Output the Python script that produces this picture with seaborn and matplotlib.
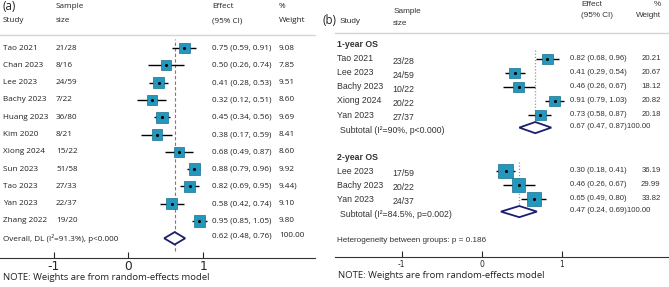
import numpy as np
import pandas as pd
import matplotlib
matplotlib.use("Agg")
import matplotlib.pyplot as plt
from matplotlib.patches import Polygon
from matplotlib.transforms import blended_transform_factory
import seaborn as sns

sns.set_style("white")

# ---- Panel (a): pooled response
a_study = ["Tao 2021", "Chan 2023", "Lee 2023", "Bachy 2023", "Huang 2023", "Kim 2020",
           "Xiong 2024", "Sun 2023", "Tao 2023", "Yan 2023", "Zhang 2022"]
a_n = ["21/28", "8/16", "24/59", "7/22", "36/80", "8/21", "15/22", "51/58", "27/33", "22/37", "19/20"]
a_es = [0.75, 0.50, 0.41, 0.32, 0.45, 0.38, 0.68, 0.88, 0.82, 0.58, 0.95]
a_lo = [0.59, 0.26, 0.28, 0.12, 0.34, 0.17, 0.49, 0.79, 0.69, 0.42, 0.85]
a_hi = [0.91, 0.74, 0.53, 0.51, 0.56, 0.59, 0.87, 0.96, 0.95, 0.74, 1.05]
a_w = ["9.08", "7.85", "9.51", "8.60", "9.69", "8.41", "8.60", "9.92", "9.44)", "9.10", "9.80"]
a_overall = (0.62, 0.48, 0.76)
a_overall_label = "Overall, DL (I²=91.3%), p<0.000"

# ---- Panel (b): OS by time point
b_groups = ["1-year OS", "2-year OS"]
b_study = [["Tao 2021", "Lee 2023", "Bachy 2023", "Xiong 2024", "Yan 2023"],
           ["Lee 2023", "Bachy 2023", "Yan 2023"]]
b_n = [["23/28", "24/59", "10/22", "20/22", "27/37"], ["17/59", "20/22", "24/37"]]
b_es = [[0.82, 0.41, 0.46, 0.91, 0.73], [0.30, 0.46, 0.65]]
b_lo = [[0.68, 0.29, 0.26, 0.79, 0.58], [0.18, 0.26, 0.49]]
b_hi = [[0.96, 0.54, 0.67, 1.03, 0.87], [0.41, 0.67, 0.80]]
b_w = [["20.21", "20.67", "18.12", "20.82", "20.18"], ["36.19", "29.99", "33.82"]]
b_sub = [(0.67, 0.47, 0.87), (0.47, 0.24, 0.69)]
b_sub_label = ["Subtotal (I²=90%, p<0.000)", "Subtotal (I²=84.5%, p=0.002)"]
het_label = "Heterogeneity between groups: p = 0.186"

ticks = [-1, 0, 1]
note = "NOTE: Weights are from random-effects model"

BOX = "#2497bd"
BOXEDGE = "#17708f"
NAVY = "#1a1f6e"

W, H = 669, 287
fig = plt.figure(figsize=(W / 100, H / 100), dpi=100)


def px_axes(l, r, top, bottom):
    return fig.add_axes([l / W, (H - bottom) / H, (r - l) / W, (bottom - top) / H])


def style_axis(ax, ticksize):
    for s in ["left", "right"]:
        ax.spines[s].set_visible(False)
    ax.spines["top"].set_color("#d4d4d4")
    ax.spines["top"].set_linewidth(1.0)
    ax.spines["bottom"].set_color("#333333")
    ax.spines["bottom"].set_linewidth(0.8)
    ax.set_yticks([])
    ax.set_xticks(ticks)
    ax.set_xticklabels([f"{t:d}" for t in ticks])
    ax.tick_params(axis="x", direction="in", length=4, width=0.8, pad=2,
                   labelsize=ticksize, bottom=True, top=False)
    ax.set_xlabel("")
    ax.set_ylabel("")


def draw_study_marks(ax, df, k):
    ax.hlines(df["row"], df["lo"], df["hi"], color="black", lw=1.0, zorder=2)
    sns.scatterplot(data=df, x="es", y="row", size="wt", sizes=(0, k * 100),
                    size_norm=(0, 100), marker="s", color=BOX, edgecolor=BOXEDGE,
                    linewidth=0.5, legend=False, ax=ax, zorder=3)
    sns.scatterplot(data=df, x="es", y="row", marker="o", color="black", s=5,
                    linewidth=0, legend=False, ax=ax, zorder=4)


def diamond(ax, est, lo, hi, row, half):
    ax.add_patch(Polygon([[lo, row], [est, row - half], [hi, row], [est, row + half]],
                         closed=True, facecolor="white", edgecolor=NAVY, lw=1.3, zorder=3))


def fmt_ci(e, l, h):
    return f"{e:.2f} ({l:.2f}, {h:.2f})"


# ================= panel (a)
axa = px_axes(0, 315, 35, 257.5)
a_rows = list(range(len(a_study)))
dfa = pd.DataFrame({"row": a_rows, "es": a_es, "lo": a_lo, "hi": a_hi,
                    "wt": [float(w.strip(")")) for w in a_w]})
axa.set_xlim(-128.3 / 74.8, (315 - 128.3) / 74.8)
axa.set_ylim((257.5 - 48) / 17.3, (35 - 48) / 17.3)
axa.axvline(a_overall[0], ymin=0.03, ymax=0.98, color="#e0504f", ls=(0, (3, 2)), lw=0.8, zorder=1)
draw_study_marks(axa, dfa, 6.6)
ov_row = len(a_study)
diamond(axa, a_overall[0], a_overall[1], a_overall[2], ov_row, 0.36)
style_axis(axa, 8.8)

fa = "Open Sans"
ta = blended_transform_factory(axa.transAxes, axa.transData)
txt_a = dict(transform=ta, fontsize=5.9, family=fa, va="center", color="#222222", clip_on=False)
for r, s, n, e, l, h, w in zip(a_rows, a_study, a_n, a_es, a_lo, a_hi, a_w):
    axa.text(0.009, r, s, **txt_a)
    axa.text(0.178, r, n, **txt_a)
    axa.text(0.673, r, fmt_ci(e, l, h), **txt_a)
    axa.text(0.886, r, w, **txt_a)
axa.text(0.009, ov_row, a_overall_label, **txt_a)
axa.text(0.673, ov_row - 0.15, fmt_ci(*a_overall), **txt_a)
axa.text(0.886, ov_row - 0.15, "100.00", **txt_a)
hdr1, hdr2 = (6 - 48) / 17.3, (21 - 48) / 17.3
axa.text(0.009, hdr1, "(a)", transform=ta, fontsize=8.3, family=fa, va="center", color="#222222")
axa.text(0.178, hdr1, "Sample", **txt_a)
axa.text(0.009, hdr2, "Study", **txt_a)
axa.text(0.178, hdr2, "size", **txt_a)
axa.text(0.673, hdr1, "Effect", **txt_a)
axa.text(0.673, hdr2, "(95% CI)", **txt_a)
axa.text(0.886, hdr1, "%", **txt_a)
axa.text(0.886, hdr2, "Weight", **txt_a)

# ================= panel (b)
axb = px_axes(335, 669, 33, 257)
axb.set_xlim((335 - 481.7) / 80, (669 - 481.7) / 80)
axb.set_ylim((257 - 45) / 14, (33 - 45) / 14)

fb = "Liberation Sans"
tb = blended_transform_factory(axb.transAxes, axb.transData)
txt_b = dict(transform=tb, fontsize=6.3, family=fb, va="center", color="#333333", clip_on=False)
num_b = dict(txt_b, fontsize=5.6)
hdr_b = dict(txt_b, fontsize=5.9)

row = 0
for g in range(len(b_groups)):
    axb.text(0.006, row, b_groups[g], fontweight="bold", **txt_b)
    rows = list(range(row + 1, row + 1 + len(b_study[g])))
    sub_row = rows[-1] + 1
    dfb = pd.DataFrame({"row": rows, "es": b_es[g], "lo": b_lo[g], "hi": b_hi[g],
                        "wt": [float(w) for w in b_w[g]]})
    axb.plot([b_sub[g][0], b_sub[g][0]], [rows[0] - 0.65, sub_row], color="#9a9a9a",
             ls=(0, (1, 1.5)), lw=0.9, zorder=1)
    draw_study_marks(axb, dfb, 3.0)
    diamond(axb, b_sub[g][0], b_sub[g][1], b_sub[g][2], sub_row - 0.1, 0.4)
    for r, s, n, e, l, h, w in zip(rows, b_study[g], b_n[g], b_es[g], b_lo[g], b_hi[g], b_w[g]):
        axb.text(0.006, r, s, **txt_b)
        axb.text(0.171, r + 0.15, n, **txt_b)
        axb.text(0.705, r, fmt_ci(e, l, h), **num_b)
        axb.text(0.975, r, w, ha="right", **num_b)
    axb.text(0.015, sub_row + 0.1, b_sub_label[g], **txt_b)
    axb.text(0.705, sub_row - 0.2, fmt_ci(*b_sub[g]) + "100.00", **num_b)
    row = sub_row + 2
axb.text(0.006, row, het_label, **hdr_b)
style_axis(axb, 5.5)

axb.text(-0.036, (21 - 45) / 14, "(b)", transform=tb, fontsize=8.3, family=fa, va="center",
         color="#222222", clip_on=False)
axb.text(0.015, (22 - 45) / 14, "Study", **hdr_b)
axb.text(0.174, (12 - 45) / 14, "Sample", **hdr_b)
axb.text(0.174, (24 - 45) / 14, "size", **hdr_b)
axb.text(0.738, (4 - 45) / 14, "Effect", **hdr_b)
axb.text(0.738, (16 - 45) / 14, "(95% CI)", **hdr_b)
axb.text(0.975, (4 - 45) / 14, "%", ha="right", **hdr_b)
axb.text(0.975, (16 - 45) / 14, "Weight", ha="right", **hdr_b)

# notes under both panels
fig.text(3 / W, 1 - 277 / H, note, fontsize=6.8, family=fa, va="center", color="#222222")
fig.text(338 / W, 1 - 275 / H, note, fontsize=6.8, family=fa, va="center", color="#222222")

fig.savefig("out.png", dpi=100)
